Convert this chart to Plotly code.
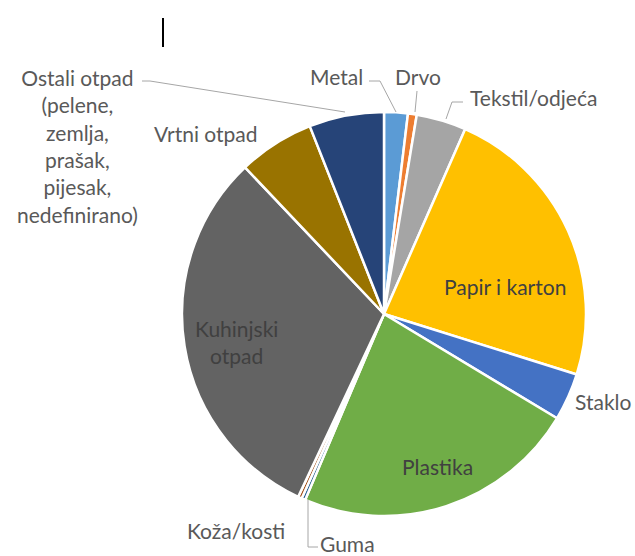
import plotly.graph_objects as go

W, H = 635, 556

categories = ["Metal", "Drvo", "Tekstil/odjeća", "Papir i karton", "Staklo", "Plastika",
              "Guma", "Koža/kosti", "Kuhinjski otpad", "Vrtni otpad",
              "Ostali otpad (pelene, zemlja, prašak, pijesak, nedefinirano)"]
values = [1.9, 0.7, 4.0, 23.3, 3.8, 22.8, 0.3, 0.3, 31.0, 6.1, 6.0]
colors = ["#5B9BD5", "#ED7D31", "#A5A5A5", "#FFC000", "#4472C4", "#70AD47",
          "#255E91", "#9E480E", "#636363", "#997300", "#264478"]

def px(x):
    return x / W

def py(y):
    return 1 - y / H

fig = go.Figure(go.Pie(
    labels=categories, values=values, sort=False, direction="clockwise", rotation=0,
    marker=dict(colors=colors, line=dict(color="white", width=2.5)),
    textinfo="none", hoverinfo="label+percent", showlegend=False,
    domain=dict(x=[px(182), px(586)], y=[py(516), py(112)]),
))

FONT = "Lato"
TC = "#595959"
IC = "#404040"
FS = 21

ann = [
    ("Metal", 336, 76, TC),
    ("Drvo", 418, 76, TC),
    ("Tekstil/odjeća", 533, 97, TC),
    ("Papir i karton", 505, 286, IC),
    ("Staklo", 603, 402, TC),
    ("Plastika", 437, 466, IC),
    ("Kuhinjski<br>otpad", 236, 342, IC),
    ("Koža/kosti", 236, 530, TC),
    ("Guma", 347, 543, TC),
    ("Vrtni otpad", 206, 133, TC),
    ("Ostali otpad<br>(pelene,<br>zemlja,<br>prašak,<br>pijesak,<br>nedefinirano)", 77, 146, TC),
]
for text, x, y, c in ann:
    fig.add_annotation(x=px(x), y=py(y), xref="paper", yref="paper", text=text,
                       showarrow=False, xanchor="center", yanchor="middle",
                       font=dict(family=FONT, size=FS, color=c), align="center")

LC = "#A6A6A6"
leaders = [
    [(369, 81), (380, 81), (396, 112)],
    [(417, 91), (415, 112)],
    [(463, 102), (452, 102), (446, 119)],
    [(142, 81), (150, 81), (345, 112)],
    [(308, 500), (308, 547), (318, 547)],
]
for pts in leaders:
    path = "M " + " L ".join(f"{px(x)} {py(y)}" for x, y in pts)
    fig.add_shape(type="path", path=path, xref="paper", yref="paper",
                  line=dict(color=LC, width=1))

fig.add_shape(type="line", x0=px(163), x1=px(163), y0=py(18), y1=py(47),
              xref="paper", yref="paper", line=dict(color="black", width=2))

fig.update_layout(width=W, height=H, margin=dict(l=0, r=0, t=0, b=0),
                  paper_bgcolor="white", plot_bgcolor="white")
fig.write_html("out.html", config={"displayModeBar": False},
               post_script="document.body.style.margin='0';document.body.style.overflow='hidden';")
